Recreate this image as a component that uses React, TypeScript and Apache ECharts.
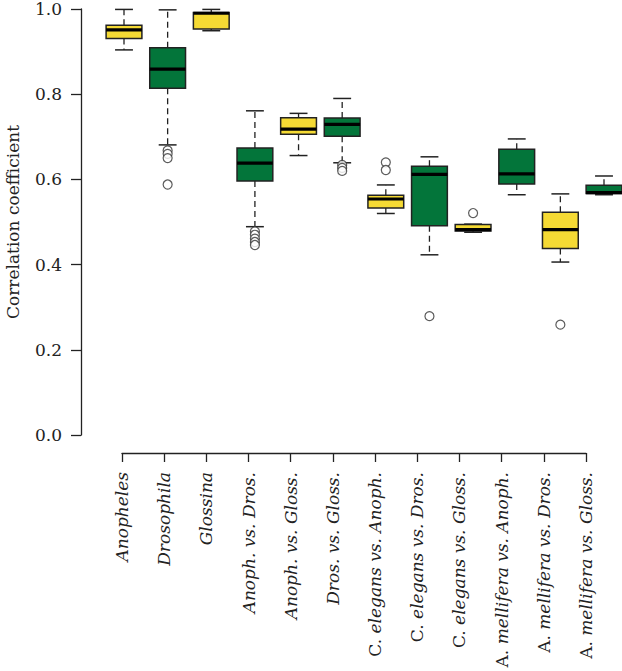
import React, { useEffect, useRef } from "react";
import * as echarts from "echarts";

// ---- data ----
const categories = [
  "Anopheles",
  "Drosophila",
  "Glossina",
  "Anoph. vs. Dros.",
  "Anoph. vs. Gloss.",
  "Dros. vs. Gloss.",
  "C. elegans vs. Anoph.",
  "C. elegans vs. Dros.",
  "C. elegans vs. Gloss.",
  "A. mellifera vs. Anoph.",
  "A. mellifera vs. Dros.",
  "A. mellifera vs. Gloss.",
];
const whiskerLow = [0.904, 0.681, 0.949, 0.489, 0.656, 0.639, 0.52, 0.423, 0.476, 0.564, 0.406, 0.564];
const q1 = [0.931, 0.814, 0.953, 0.596, 0.706, 0.701, 0.533, 0.491, 0.479, 0.589, 0.438, 0.567];
const median = [0.951, 0.859, 0.99, 0.638, 0.718, 0.729, 0.554, 0.612, 0.482, 0.613, 0.482, 0.569];
const q3 = [0.962, 0.909, 0.992, 0.674, 0.745, 0.744, 0.563, 0.631, 0.494, 0.671, 0.523, 0.586];
const whiskerHigh = [0.999, 0.998, 0.999, 0.761, 0.755, 0.79, 0.587, 0.653, 0.495, 0.695, 0.566, 0.608];
const outliers: [number, number][] = [
  [1, 0.668], [1, 0.66], [1, 0.65], [1, 0.588],
  [3, 0.478], [3, 0.47], [3, 0.461], [3, 0.453], [3, 0.446],
  [5, 0.634], [5, 0.627], [5, 0.62],
  [6, 0.64], [6, 0.622],
  [7, 0.279],
  [8, 0.521],
  [10, 0.259],
];
const yTicks = [0, 0.2, 0.4, 0.6, 0.8, 1.0];

const YELLOW = "#F5DA34";
const GREEN = "#03753A";
const INK = "#222222";
const FONT = "DejaVu Serif";

export default function App() {
  const ref = useRef<HTMLDivElement>(null);
  useEffect(() => {
    if (!ref.current) return;
    const chart = echarts.init(ref.current, undefined, { renderer: "svg" });
    const boxData = categories.map((_, i) => [i, whiskerLow[i], q1[i], median[i], q3[i], whiskerHigh[i]]);
    const option: any = {
      animation: false,
      backgroundColor: "#ffffff",
      grid: [
        { left: 100, right: 0, top: 9, bottom: 236, outerBoundsMode: "none" },
        { left: 81, width: 10, top: 9, bottom: 236, outerBoundsMode: "none" },
        { left: 122, right: 36, top: 9, bottom: 218, outerBoundsMode: "none" },
      ],
      xAxis: [
        { gridIndex: 0, type: "value", min: -0.55, max: 11.4125, show: false },
        { gridIndex: 1, type: "value", min: 0, max: 1, show: false },
        {
          gridIndex: 2,
          type: "category",
          data: categories,
          boundaryGap: false,
          axisLine: { show: true, lineStyle: { color: INK, width: 1.3 } },
          axisTick: { show: true, length: 9, interval: 0, lineStyle: { color: INK, width: 1.3 } },
          splitLine: { show: false },
          axisLabel: {
            interval: 0,
            rotate: 90,
            margin: 19,
            color: INK,
            fontFamily: FONT,
            fontSize: 17,
            fontStyle: "italic",
            formatter: (v: string) => {
              const m = v.match(/^([A-Z]\. )(.*)$/);
              if (m) return "{u|" + m[1] + "}{i|" + m[2] + "}";
              return "{i|" + v + "}";
            },
            rich: {
              u: { fontFamily: FONT, fontSize: 17, fontStyle: "normal", color: INK },
              i: { fontFamily: FONT, fontSize: 17, fontStyle: "italic", color: INK },
            },
          },
        },
      ],
      yAxis: [
        { gridIndex: 0, type: "value", min: 0, max: 1, show: false },
        {
          gridIndex: 1,
          type: "value",
          min: yTicks[0],
          max: yTicks[yTicks.length - 1],
          interval: 0.2,
          axisLine: { show: true, lineStyle: { color: INK, width: 1.3 } },
          axisTick: { show: true, length: 10, lineStyle: { color: INK, width: 1.3 } },
          splitLine: { show: false },
          axisLabel: {
            margin: 19,
            color: INK,
            fontFamily: FONT,
            fontSize: 17,
            formatter: (v: number) => v.toFixed(1),
          },
          name: "Correlation coefficient",
          nameLocation: "middle",
          nameGap: 60,
          nameTextStyle: { color: INK, fontFamily: FONT, fontSize: 17 },
        },
        { gridIndex: 2, type: "value", min: 0, max: 1, show: false },
      ],
      series: [
        {
          type: "custom",
          xAxisIndex: 0,
          yAxisIndex: 0,
          data: boxData,
          encode: { x: 0, y: [1, 2, 3, 4, 5] },
          clip: false,
          renderItem: (params: any, api: any) => {
            const i = api.value(0);
            const lo = api.coord([i, api.value(1)]);
            const b1 = api.coord([i, api.value(2)]);
            const md = api.coord([i, api.value(3)]);
            const b3 = api.coord([i, api.value(4)]);
            const hi = api.coord([i, api.value(5)]);
            const band = api.size([1, 0])[0];
            const half = (band * 0.82) / 2;
            const cap = half / 2;
            const x = lo[0];
            const fill = i % 2 === 0 ? YELLOW : GREEN;
            const dashed = { stroke: INK, lineWidth: 1.3, lineDash: [6, 4] };
            const solid = { stroke: INK, lineWidth: 1.5 };
            return {
              type: "group",
              children: [
                { type: "line", shape: { x1: x, y1: b3[1], x2: x, y2: hi[1] }, style: dashed },
                { type: "line", shape: { x1: x, y1: b1[1], x2: x, y2: lo[1] }, style: dashed },
                { type: "line", shape: { x1: x - cap, y1: hi[1], x2: x + cap, y2: hi[1] }, style: solid },
                { type: "line", shape: { x1: x - cap, y1: lo[1], x2: x + cap, y2: lo[1] }, style: solid },
                {
                  type: "rect",
                  shape: { x: x - half, y: b3[1], width: half * 2, height: b1[1] - b3[1] },
                  style: { fill, stroke: INK, lineWidth: 1.5 },
                },
                {
                  type: "line",
                  shape: { x1: x - half, y1: md[1], x2: x + half, y2: md[1] },
                  style: { stroke: "#000", lineWidth: 3.2 },
                },
              ],
            };
          },
        },
        {
          type: "scatter",
          xAxisIndex: 0,
          yAxisIndex: 0,
          data: outliers,
          symbol: "circle",
          symbolSize: 9,
          itemStyle: { color: "#ffffff", borderColor: "#333333", borderWidth: 1.2 },
          z: 3,
        },
      ],
    };
    chart.setOption(option);
    return () => chart.dispose();
  }, []);
  return <div ref={ref} style={{ width: 622, height: 671, position: "absolute", left: 0, top: 0 }} />;
}
